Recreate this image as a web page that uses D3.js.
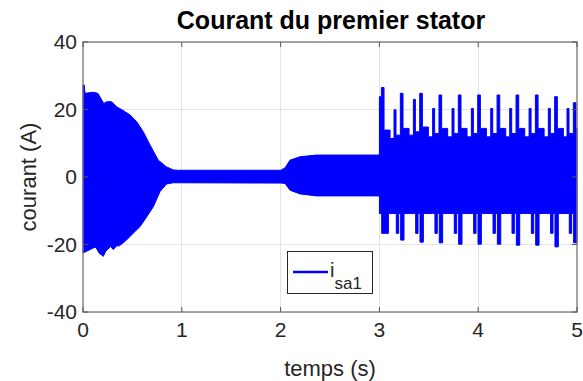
<!DOCTYPE html>
<html><head><meta charset="utf-8">
<script src="https://cdn.jsdelivr.net/npm/d3@7"></script>
<style>body{margin:0;background:#fff}svg{display:block}</style>
</head><body>
<svg id="c" width="583" height="381"></svg>
<script>
// ---- data ----
const title = "Courant du premier stator";
const xLabel = "temps (s)";
const yLabel = "courant (A)";
const xTicks = [0, 1, 2, 3, 4, 5];
const yTicks = [-40, -20, 0, 20, 40];

// smooth envelope of the current, 0 - 3 s
const upT = [0.000, 0.012, 0.020, 0.105, 0.150, 0.210, 0.240, 0.290, 0.340, 0.390, 0.476, 0.543, 0.610, 0.678, 0.762, 0.845, 0.914, 0.960, 2.000, 2.045, 2.095, 2.196, 2.365, 3.000];
const upV = [27.3, 27.3, 24.8, 25.1, 24.8, 21.8, 22.3, 22.3, 20.8, 20.0, 18.4, 16.4, 13.4, 9.5, 5.0, 3.0, 2.1, 2.0, 2.0, 2.7, 5.0, 6.0, 6.5, 6.5];
const loT = [0.000, 0.105, 0.130, 0.162, 0.206, 0.230, 0.280, 0.307, 0.340, 0.368, 0.440, 0.510, 0.577, 0.645, 0.712, 0.780, 0.845, 0.914, 2.000, 2.045, 2.095, 2.196, 2.365, 3.000];
const loV = [-22.5, -21.0, -20.8, -22.5, -23.5, -22.0, -20.6, -21.5, -20.4, -20.4, -18.7, -16.6, -14.7, -11.8, -8.8, -4.3, -2.1, -1.7, -1.8, -1.9, -3.9, -5.0, -5.6, -5.6];

// spiky regime, 3 - 5 s : per-period peaks
const tallT  = [3.030, 3.222, 3.418, 3.613, 3.809, 4.005, 4.201, 4.393, 4.589, 4.784, 4.973];
const tallUp = [26.5, 24.8, 24.8, 24.3, 24.3, 24.3, 24.3, 24.3, 24.3, 23.8, 22.0];
const tallLo = [-16.7, -18.7, -19.3, -19.5, -19.9, -19.9, -19.9, -20.2, -20.2, -20.7, -19.5];
const troughEnd = [3.091, 3.249, 3.445, 3.640, 3.836, 4.032, 4.228, 4.420, 4.616, 4.811, 5.000];
const medUp  = [23.8, 19.9, 23.0, 20.3, 20.3, 20.3, 20.3, 20.3, 20.3, 20.3, 20.3];
const secLo  = [-9.0, -16.7, -16.7, -16.7, -16.7, -16.7, -16.7, -16.7, -16.7, -16.7, -16.7];
const postUp = [13.9, 14.4, 14.8, 14.4, 14.4, 14.4, 14.4, 14.4, 14.4, 14.4, 14.4];
const baseUp = [11.4, 12.4, 11.9, 11.9, 11.9, 11.9, 11.9, 11.9, 11.9, 11.9, 11.9];
const baseLo = [-10.8, -10.8, -10.8, -10.8, -10.8, -10.8, -10.8, -10.8, -10.8, -10.8, -10.8];

const legendLabel = "i", legendSub = "sa1";

// ---- layout ----
const L = 83, R = 577, T = 42, B = 312;
const svg = d3.select("#c");
const x = d3.scaleLinear().domain([0, 5]).range([L, R]);
const y = d3.scaleLinear().domain([-40, 40]).range([B, T]);
const font = "'Liberation Sans', Arial, Helvetica, sans-serif";
const blue = "#0000ff";

// grid
svg.append("g").selectAll("line").data(xTicks).join("line")
  .attr("x1", d => x(d)).attr("x2", d => x(d)).attr("y1", T).attr("y2", B)
  .attr("stroke", "#e3e3e3").attr("stroke-width", 1).attr("shape-rendering", "crispEdges");
svg.append("g").selectAll("line").data(yTicks).join("line")
  .attr("y1", d => y(d)).attr("y2", d => y(d)).attr("x1", L).attr("x2", R)
  .attr("stroke", "#e3e3e3").attr("stroke-width", 1).attr("shape-rendering", "crispEdges");

// smooth envelope polygon
const poly = upT.map((t, i) => [t, upV[i]]).concat(loT.map((t, i) => [t, loV[i]]).reverse());
svg.append("path")
  .attr("d", d3.line().x(d => x(d[0])).y(d => y(d[1]))(poly) + "Z")
  .attr("fill", blue).attr("stroke", blue).attr("stroke-width", 1);

// spiky regime built from the per-period values
const steps = [];
tallT.forEach((tc, i) => {
  const m = i === 0 ? 3.000 : tc - 0.074;
  const pre = i === 0 ? medUp[i] : baseUp[i - 1] + 1;
  steps.push([m, medUp[i], baseLo[i]]);
  steps.push([tc - 0.054, pre, baseLo[i]]);
  steps.push([tc - 0.051, pre, secLo[i]]);
  steps.push([tc - 0.027, pre, baseLo[i]]);
  steps.push([tc - 0.010, tallUp[i], baseLo[i]]);
  steps.push([tc - 0.007, tallUp[i], tallLo[i]]);
  steps.push([tc + 0.017, postUp[i], tallLo[i]]);
  steps.push([troughEnd[i], tc + 0.078 <= troughEnd[i] ? baseUp[i] : postUp[i], baseLo[i]]);
  steps.push([tc + 0.078, baseUp[i], baseLo[i]]);
});
const st = steps.filter(d => d[0] >= 3.0 && d[0] < 5.0).sort((a, b) => a[0] - b[0]);
st.push([5.0, st[st.length - 1][1], st[st.length - 1][2]]);
svg.append("path")
  .attr("d", d3.area().curve(d3.curveStepAfter).x(d => x(d[0])).y0(d => y(d[2])).y1(d => y(d[1]))(st))
  .attr("fill", blue).attr("stroke", blue).attr("stroke-width", 1);

// box + ticks
const axisCol = "#262626";
svg.append("rect").attr("x", L).attr("y", T).attr("width", R - L).attr("height", B - T)
  .attr("fill", "none").attr("stroke", "#7a7a7a").attr("stroke-width", 1.3);
const tk = svg.append("g").attr("stroke", "#555").attr("stroke-width", 1);
xTicks.forEach(d => {
  tk.append("line").attr("x1", x(d)).attr("x2", x(d)).attr("y1", B).attr("y2", B - 5);
  tk.append("line").attr("x1", x(d)).attr("x2", x(d)).attr("y1", T).attr("y2", T + 5);
});
yTicks.forEach(d => {
  tk.append("line").attr("y1", y(d)).attr("y2", y(d)).attr("x1", L).attr("x2", L + 5);
  tk.append("line").attr("y1", y(d)).attr("y2", y(d)).attr("x1", R).attr("x2", R - 5);
});

// tick labels
svg.append("g").selectAll("text").data(xTicks).join("text")
  .attr("x", d => x(d)).attr("y", 337).attr("text-anchor", "middle")
  .attr("font-family", font).attr("font-size", 21).attr("fill", axisCol).text(d => d);
svg.append("g").selectAll("text").data(yTicks).join("text")
  .attr("x", 77).attr("y", d => y(d) + 7).attr("text-anchor", "end")
  .attr("font-family", font).attr("font-size", 21).attr("fill", axisCol).text(d => d);

// labels
svg.append("text").attr("x", 330).attr("y", 376).attr("text-anchor", "middle")
  .attr("font-family", font).attr("font-size", 22).attr("fill", axisCol).text(xLabel);
svg.append("text").attr("transform", "translate(36,177) rotate(-90)").attr("text-anchor", "middle")
  .attr("font-family", font).attr("font-size", 22).attr("fill", axisCol).text(yLabel);
svg.append("text").attr("x", 331).attr("y", 29).attr("text-anchor", "middle")
  .attr("font-family", font).attr("font-size", 25).attr("font-weight", "bold").attr("fill", "#000").text(title);

// legend
const lg = svg.append("g");
lg.append("rect").attr("x", 287.5).attr("y", 251.5).attr("width", 85).attr("height", 42)
  .attr("fill", "#fff").attr("stroke", axisCol).attr("stroke-width", 1);
lg.append("line").attr("x1", 293).attr("x2", 328).attr("y1", 272).attr("y2", 272)
  .attr("stroke", blue).attr("stroke-width", 2.5);
const lt = lg.append("text").attr("x", 330).attr("y", 277)
  .attr("font-family", font).attr("font-size", 20).attr("fill", axisCol);
lt.append("tspan").text(legendLabel);
lt.append("tspan").attr("dy", 12).attr("font-size", 17).text(legendSub);
</script>
</body></html>
